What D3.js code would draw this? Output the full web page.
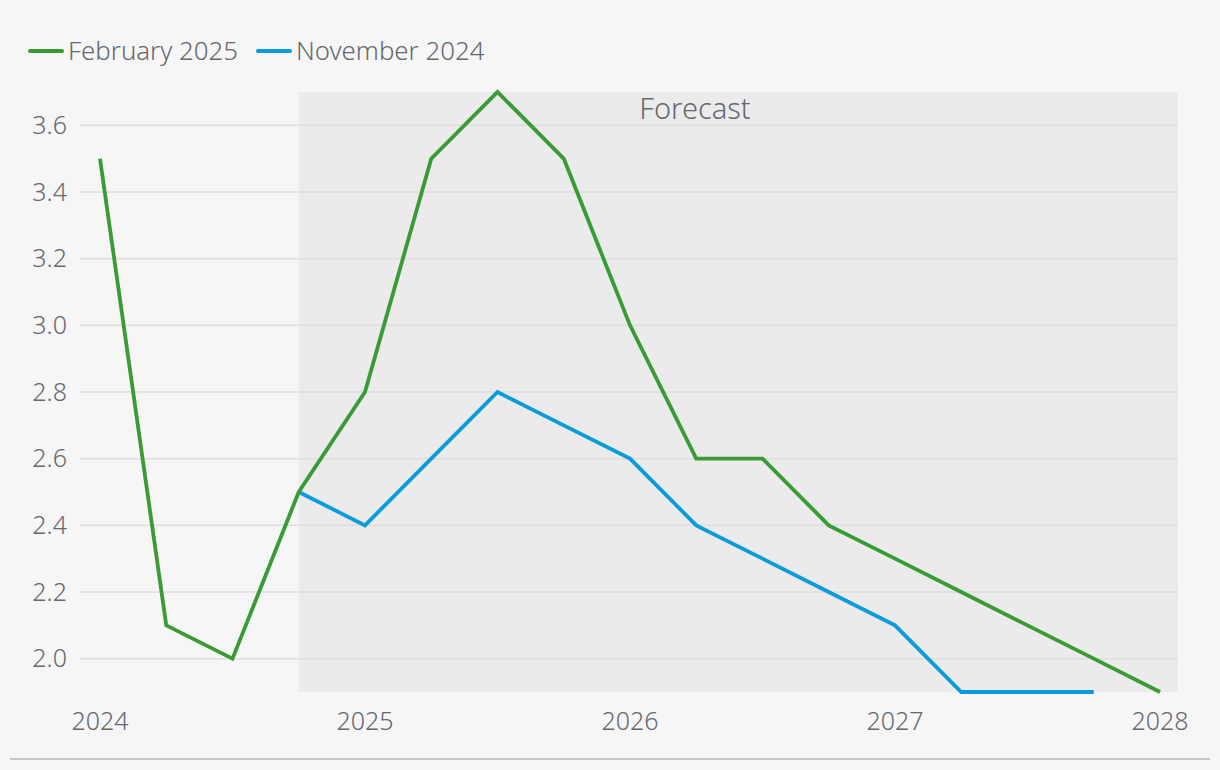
<!DOCTYPE html>
<html><head><meta charset="utf-8">
<script src="https://cdn.jsdelivr.net/npm/d3@7"></script>
<style>
html,body{margin:0;padding:0;background:#f6f6f6;}
svg{display:block;font-family:"Noto Sans","Open Sans",sans-serif;font-weight:300;}
</style></head>
<body><svg id="c" width="1220" height="770"></svg>
<script>
// Quarterly periods (decimal years)
const periodsFeb = [2024,2024.25,2024.5,2024.75,2025,2025.25,2025.5,2025.75,2026,2026.25,2026.5,2026.75,2027,2027.25,2027.5,2027.75,2028];
const valuesFeb  = [3.5,2.1,2.0,2.5,2.8,3.5,3.7,3.5,3.0,2.6,2.6,2.4,2.3,2.2,2.1,2.0,1.9];
const periodsNov = [2024.75,2025,2025.25,2025.5,2025.75,2026,2026.25,2026.5,2026.75,2027,2027.25,2027.5,2027.75];
const valuesNov  = [2.5,2.4,2.6,2.8,2.7,2.6,2.4,2.3,2.2,2.1,1.9,1.9,1.9];
const xTicks = [2024,2025,2026,2027,2028];
const yTicks = [2.0,2.2,2.4,2.6,2.8,3.0,3.2,3.4,3.6];
const forecastStart = 2024.75;
const seriesNames = ["February 2025","November 2024"];
const seriesColors = ["#3a9b36","#0a9bdb"];

const svg = d3.select("#c");
const x = d3.scaleLinear().domain([2024,2028]).range([100,1160]);
const y = d3.scaleLinear().domain([1.9,3.7]).range([692,92]);
const textColor = "#65686e";

// forecast shading
svg.append("rect")
  .attr("x", x(forecastStart)).attr("y", y(3.7))
  .attr("width", 1178 - x(forecastStart)).attr("height", y(1.9) - y(3.7))
  .attr("fill", "#ebebeb");

// gridlines
svg.append("g").selectAll("line").data(yTicks).join("line")
  .attr("x1", 80).attr("x2", 1178)
  .attr("y1", d => y(d)).attr("y2", d => y(d))
  .attr("stroke", "#dedede").attr("stroke-width", 1.5);

// y labels
svg.append("g").selectAll("text").data(yTicks).join("text")
  .attr("x", 67).attr("y", d => y(d)).attr("dy", "0.35em")
  .attr("text-anchor", "end").attr("fill", textColor)
  .attr("font-size", 25).text(d => d.toFixed(1));

// x labels
svg.append("g").selectAll("text").data(xTicks).join("text")
  .attr("x", d => x(d)).attr("y", 730)
  .attr("text-anchor", "middle").attr("fill", textColor)
  .attr("font-size", 25).text(d => d);

// forecast label
svg.append("text").attr("x", 695).attr("y", 119)
  .attr("text-anchor", "middle").attr("fill", textColor)
  .attr("font-size", 29).text("Forecast");

// bottom line
svg.append("line").attr("x1", 10).attr("x2", 1210).attr("y1", 759).attr("y2", 759)
  .attr("stroke", "#c6c6c6").attr("stroke-width", 2);

const line = d3.line().x(d => x(d[0])).y(d => y(d[1]));
const novData = d3.zip(periodsNov, valuesNov);
const febData = d3.zip(periodsFeb, valuesFeb);
svg.append("path").datum(novData).attr("d", line)
  .attr("fill", "none").attr("stroke", seriesColors[1]).attr("stroke-width", 3.8)
  .attr("stroke-linejoin", "miter");
svg.append("path").datum(febData).attr("d", line)
  .attr("fill", "none").attr("stroke", seriesColors[0]).attr("stroke-width", 3.8)
  .attr("stroke-linejoin", "miter");

// legend
const legendX = [30, 258];
const lg = svg.append("g");
seriesNames.forEach((n, i) => {
  lg.append("line").attr("x1", legendX[i]).attr("x2", legendX[i] + 32)
    .attr("y1", 51).attr("y2", 51)
    .attr("stroke", seriesColors[i]).attr("stroke-width", 4).attr("stroke-linecap", "round");
  lg.append("text").attr("x", legendX[i] + 38).attr("y", 51).attr("dy", "0.35em")
    .attr("fill", textColor).attr("font-size", 25.8).text(n);
});
</script></body></html>
